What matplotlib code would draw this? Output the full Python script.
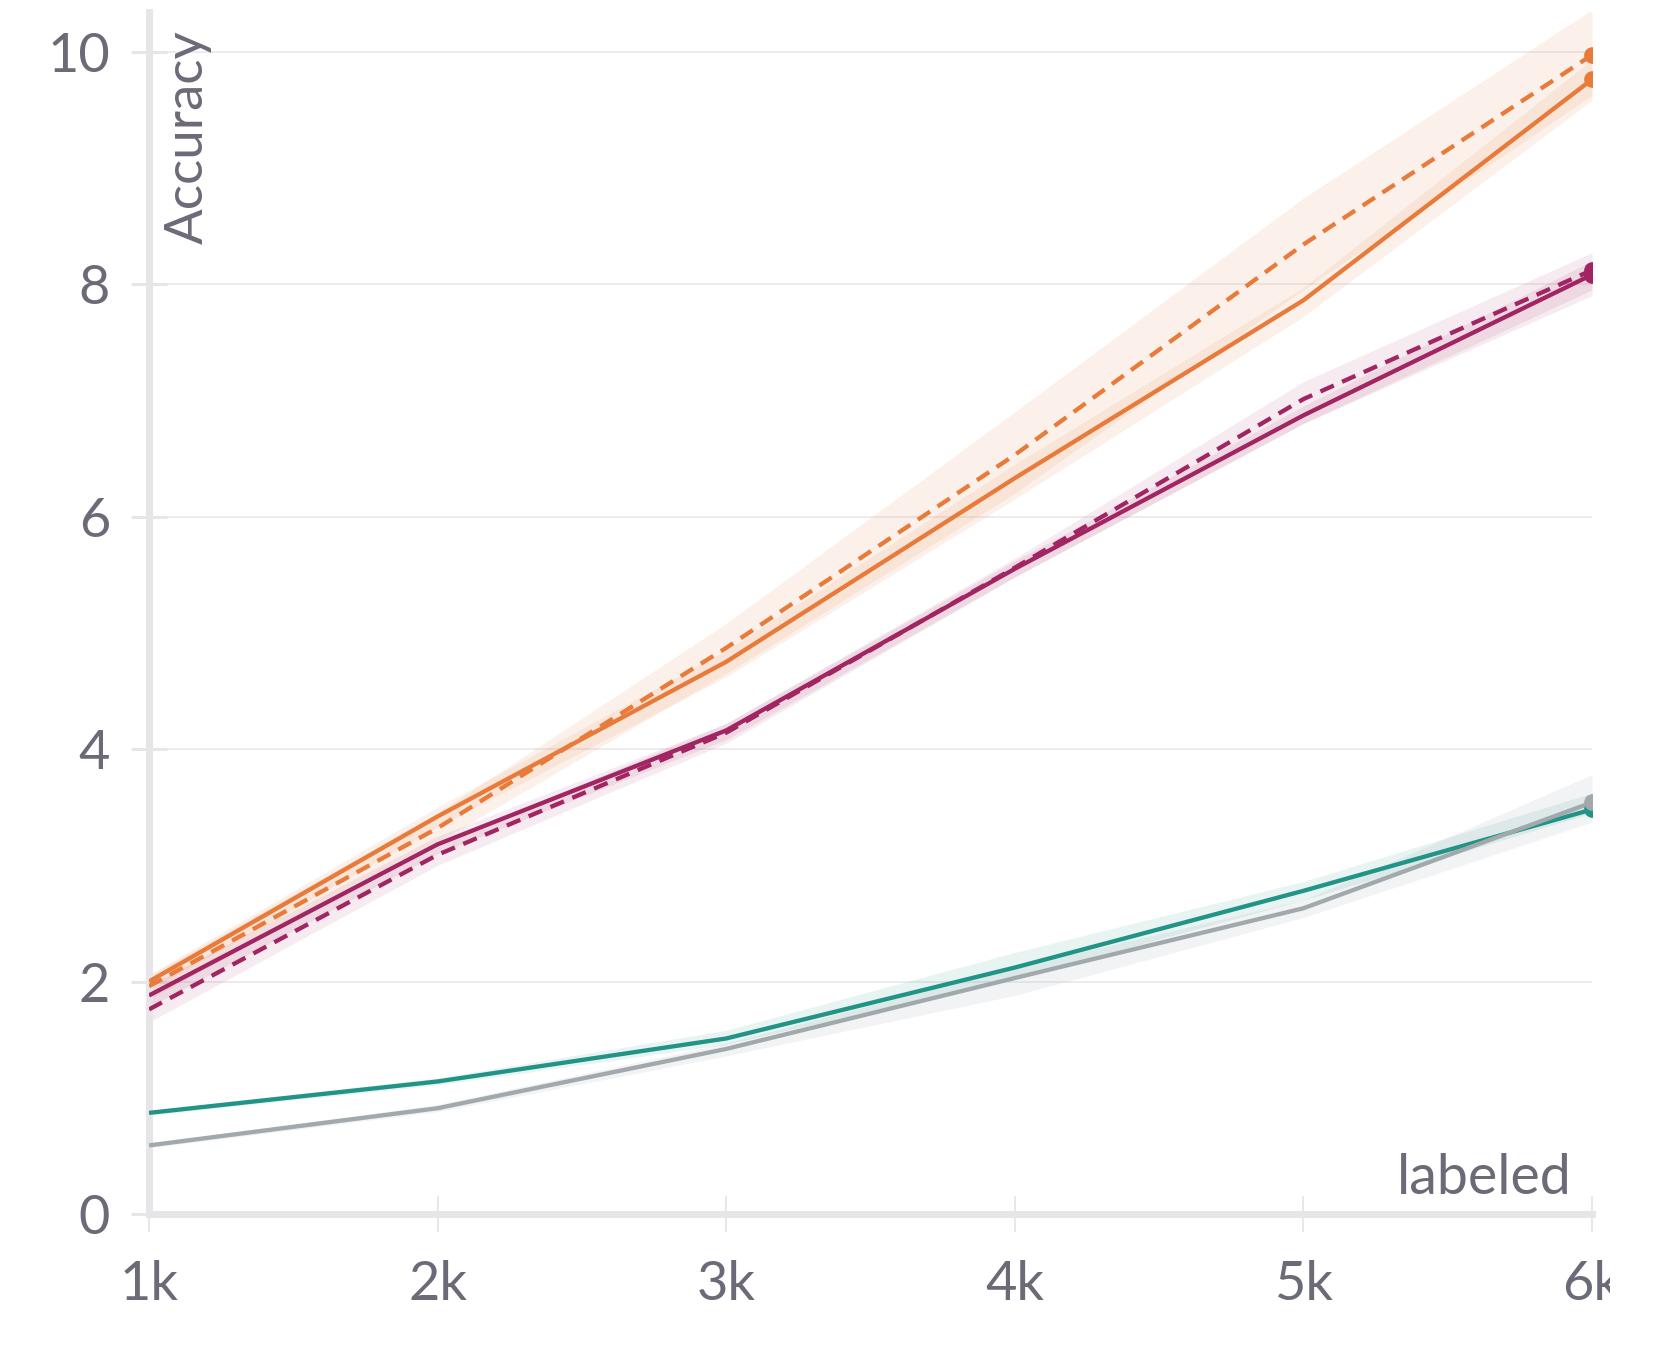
import matplotlib
matplotlib.use("Agg")
import matplotlib.pyplot as plt
from matplotlib.transforms import Bbox, TransformedBbox

plt.rcParams['font.family'] = ['Lato', 'DejaVu Sans']

x_labeled = [1000, 2000, 3000, 4000, 5000, 6000]
x_tick_labels = ['1k', '2k', '3k', '4k', '5k', '6k']
y_ticks = [0, 2, 4, 6, 8, 10]

orange_solid = [2.00, 3.42, 4.75, 6.33, 7.86, 9.76]
orange_solid_lo = [1.92, 3.33, 4.62, 6.15, 7.72, 9.58]
orange_solid_hi = [2.06, 3.50, 4.85, 6.45, 7.97, 9.93]

orange_dash = [1.96, 3.32, 4.87, 6.53, 8.34, 9.97]
orange_dash_lo = [1.85, 3.20, 4.65, 6.20, 7.95, 9.62]
orange_dash_hi = [2.05, 3.45, 5.08, 6.90, 8.74, 10.36]

purple_solid = [1.88, 3.18, 4.16, 5.55, 6.87, 8.08]
purple_solid_lo = [1.78, 3.10, 4.08, 5.48, 6.80, 7.90]
purple_solid_hi = [1.97, 3.25, 4.22, 5.62, 6.95, 8.20]

purple_dash = [1.76, 3.09, 4.14, 5.56, 7.01, 8.12]
purple_dash_lo = [1.65, 3.00, 4.05, 5.48, 6.80, 7.95]
purple_dash_hi = [1.88, 3.18, 4.22, 5.64, 7.16, 8.27]

teal = [0.87, 1.14, 1.51, 2.12, 2.78, 3.48]
teal_lo = [0.85, 1.11, 1.46, 2.03, 2.70, 3.45]
teal_hi = [0.89, 1.17, 1.58, 2.25, 2.86, 3.62]

grey = [0.59, 0.91, 1.42, 2.03, 2.63, 3.54]
grey_lo = [0.57, 0.88, 1.36, 1.88, 2.55, 3.37]
grey_hi = [0.61, 0.94, 1.47, 2.12, 2.70, 3.78]

ORANGE = '#E87A3A'
PURPLE = '#A22563'
TEAL = '#229487'
GREY = '#A2A9AD'
TEXT = '#6B6B78'
AXC = '#E6E6E9'

fig = plt.figure(figsize=(16.61, 13.61), dpi=100)
ax = fig.add_axes([149/1661, (1361-1214)/1361, 1443/1661, (1214-12)/1361])

lw = 3.1
ms = 11
series = [
    (grey, grey_lo, grey_hi, GREY, '-', 0.13),
    (teal, teal_lo, teal_hi, TEAL, '-', 0.10),
    (orange_solid, orange_solid_lo, orange_solid_hi, ORANGE, '-', 0.10),
    (orange_dash, orange_dash_lo, orange_dash_hi, ORANGE, '--', 0.10),
    (purple_solid, purple_solid_lo, purple_solid_hi, PURPLE, '-', 0.09),
    (purple_dash, purple_dash_lo, purple_dash_hi, PURPLE, '--', 0.09),
]
for y, lo, hi, c, ls, a in series:
    ax.fill_between(x_labeled, lo, hi, color=c, alpha=a, linewidth=0, zorder=2)
for y, lo, hi, c, ls, a in [series[1], series[0]] + series[2:]:
    line, = ax.plot(x_labeled, y, color=c, linewidth=lw, linestyle=ls, zorder=3,
                    solid_capstyle='butt')
    if ls == '--':
        line.set_dashes((3.4, 2.1))
    ax.plot(x_labeled[-1:], y[-1:], 'o', color=c, markersize=ms, zorder=4)

ax.set_xlim(1000, 6000)
ax.set_ylim(0, 10.34)
ax.set_xticks(x_labeled)
ax.set_xticklabels(x_tick_labels)
ax.set_yticks(y_ticks)
ax.set_yticklabels([str(v) for v in y_ticks])

ax.grid(axis='y', color='#E9E9EB', linewidth=1.2, zorder=0)
ax.set_axisbelow(True)
for s in ['top', 'right']:
    ax.spines[s].set_visible(False)
for s in ['left', 'bottom']:
    ax.spines[s].set_color(AXC)
    ax.spines[s].set_linewidth(5)
ax.tick_params(axis='both', direction='inout', length=26, width=1.3, color=AXC,
               labelcolor=TEXT, labelsize=39)
ax.tick_params(axis='x', pad=20)
ax.tick_params(axis='y', width=2.2, pad=15)

ax.text(0.027, 0.985, 'Accuracy', transform=ax.transAxes, rotation=90,
        ha='center', va='top', color=TEXT, fontsize=38)
ax.text(0.986, 0.008, 'labeled', transform=ax.transAxes, ha='right',
        va='bottom', color=TEXT, fontsize=40)

clip = TransformedBbox(Bbox([[0, 0], [1610/1661, 1]]), fig.transFigure)
for lab in ax.get_xticklabels():
    lab.set_clip_box(clip)
    lab.set_clip_on(True)

fig.savefig('out.png', dpi=100, facecolor='white')
